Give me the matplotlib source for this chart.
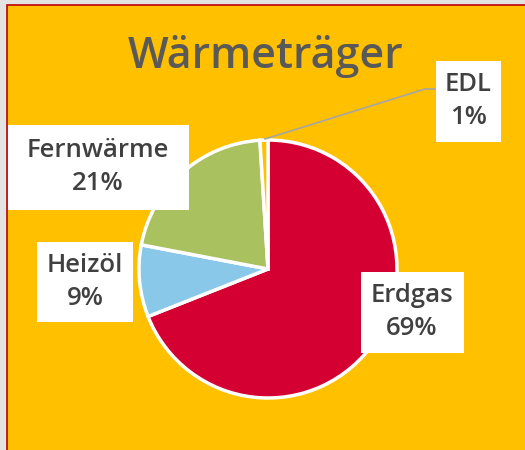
import matplotlib
matplotlib.use("Agg")
import matplotlib.pyplot as plt
from matplotlib.patches import Rectangle

plt.rcParams['font.family'] = ['Open Sans', 'DejaVu Sans']

# data
categories = ["Erdgas", "Heizöl", "Fernwärme", "EDL"]
shares = [69, 9, 21, 1]
colors = ["#D50032", "#89C8E8", "#A9C15F", "#FFC000"]

title = "Wärmeträger"

# label box layout (pixel centre x, centre y, width, height)
label_boxes = {
  "Erdgas": (412, 312, 103, 81),
  "Heizöl": (85, 282, 96, 80),
  "Fernwärme": (98, 167, 181, 85),
  "EDL": (468, 101, 65, 81),
}

W, H = 525, 450
fig = plt.figure(figsize=(W / 100, H / 100), dpi=100)
fig.patch.set_facecolor("#E3E3E3")

ax = fig.add_axes([0, 0, 1, 1])

# orange card with red border
ax.add_patch(Rectangle((7, -10), W, H - 5 + 10, facecolor="#FFC000",
                       edgecolor="#C00000", linewidth=1.2, zorder=0))

cx, cy, r = 268, H - 269, 129
wedges, _ = ax.pie(shares, colors=colors, startangle=90, counterclock=False,
                   center=(cx, cy), radius=r, frame=True,
                   wedgeprops=dict(edgecolor="white", linewidth=2.5))
ax.set_xlim(0, W)
ax.set_ylim(0, H)
ax.set_aspect('equal')
ax.axis('off')

ax.text(266, H - 57, title, ha='center', va='center', fontsize=31,
        fontweight='semibold', color="#595959")

# EDL leader line
ax.plot([265, 425, 436], [H - 139, H - 89, H - 89], color="#A6A6A6", lw=1.2, zorder=3)

for name, val in zip(categories, shares):
  bx, by, bw, bh = label_boxes[name]
  ax.add_patch(Rectangle((bx - bw / 2, H - by - bh / 2), bw, bh,
                         facecolor="white", edgecolor="none", zorder=4))
  ax.text(bx, H - by, f"{name}\n{val:.0f}%", ha='center', va='center',
          fontsize=18.5, fontweight='semibold', color="#404040",
          linespacing=1.42, zorder=5)

fig.savefig("out.png", dpi=100, facecolor=fig.get_facecolor())
